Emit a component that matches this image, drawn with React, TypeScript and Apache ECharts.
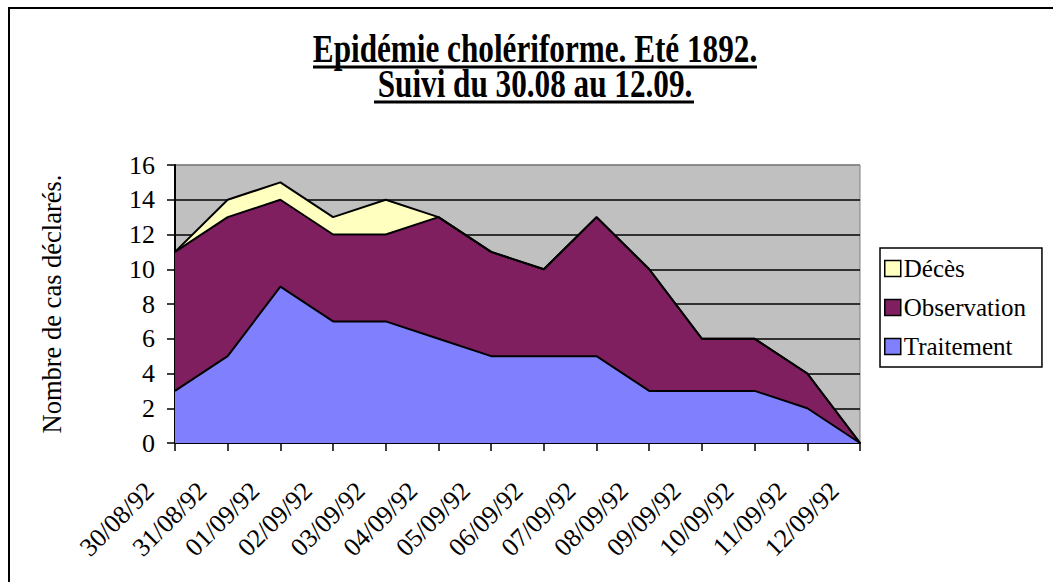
import React, { useEffect, useRef } from "react";
import * as echarts from "echarts";

const dates = [
  "30/08/92", "31/08/92", "01/09/92", "02/09/92", "03/09/92", "04/09/92", "05/09/92",
  "06/09/92", "07/09/92", "08/09/92", "09/09/92", "10/09/92", "11/09/92", "12/09/92",
];
const traitement = [3, 5, 9, 7, 7, 6, 5, 5, 5, 3, 3, 3, 2, 0];
const observation = [8, 8, 5, 5, 5, 7, 6, 5, 8, 7, 3, 3, 2, 0];
const deces = [0, 1, 1, 1, 2, 0, 0, 0, 0, 0, 0, 0, 0, 0];

const titleLine1 = "Epidémie cholériforme. Eté 1892.";
const titleLine2 = "Suivi du 30.08 au 12.09.";
const yAxisTitle = "Nombre de cas déclarés.";

const FONT = "Liberation Serif";

export default function App() {
  const ref = useRef<HTMLDivElement>(null);
  useEffect(() => {
    document.body.style.margin = "0";
    document.body.style.overflow = "hidden";
    const chart = echarts.init(ref.current!, null, { renderer: "svg" });
    const gridColors = ["#000", "#000", "#000", "#000", "#000", "#000", "#000", "#000", "#808080"];
    const mk = (name: string, data: number[], color: string) => ({
      name,
      type: "line",
      stack: "total",
      data,
      symbol: "none",
      itemStyle: { color },
      lineStyle: { color: "#000", width: 2 },
      areaStyle: { color, opacity: 1 },
    });
    chart.setOption({
      animation: false,
      textStyle: { fontFamily: FONT },
      grid: {
        left: 175,
        top: 165,
        width: 685,
        height: 278,
        show: true,
        backgroundColor: "#C0C0C0",
        borderColor: "#808080",
        borderWidth: 1,
      },
      legend: {
        orient: "vertical",
        left: 880,
        top: 248,
        data: ["Décès", "Observation", "Traitement"],
        icon: "rect",
        itemWidth: 16,
        itemHeight: 16,
        itemGap: 14,
        selectedMode: false,
        borderColor: "#000",
        borderWidth: 1.5,
        backgroundColor: "#fff",
        padding: [8, 16, 8, 4],
        itemStyle: { borderColor: "#000", borderWidth: 1.5 },
        textStyle: { fontFamily: FONT, fontSize: 25, color: "#000", padding: [0, 0, 0, -2] },
      },
      xAxis: {
        type: "category",
        data: dates,
        boundaryGap: false,
        axisLine: { lineStyle: { color: "#000", width: 2 } },
        axisTick: { show: true, length: 8, lineStyle: { color: "#000", width: 1.5 }, interval: 0 },
        axisLabel: {
          interval: 0,
          rotate: 45,
          margin: 18,
          padding: [0, 36, 0, 0],
          fontFamily: FONT,
          fontSize: 26,
          color: "#000",
        },
      },
      yAxis: {
        type: "value",
        min: 0,
        max: 16,
        interval: 2,
        name: yAxisTitle,
        nameLocation: "middle",
        nameRotate: 90,
        nameGap: 110,
        nameTextStyle: { fontFamily: FONT, fontSize: 26.5, color: "#000" },
        axisLine: { show: true, lineStyle: { color: "#000", width: 2 } },
        axisTick: { show: true, length: 8, lineStyle: { color: "#000", width: 1.5 } },
        axisLabel: { margin: 20, fontFamily: FONT, fontSize: 26, color: "#000" },
        splitLine: { show: true, lineStyle: { color: gridColors, width: 1.5 } },
      },
      series: [
        mk("Traitement", traitement, "#8080FF"),
        mk("Observation", observation, "#7F1F5F"),
        mk("Décès", deces, "#FFFFC0"),
      ],
      graphic: [
        {
          type: "rect",
          shape: { x: 9, y: 8, width: 1200, height: 700 },
          style: { fill: "none", stroke: "#000", lineWidth: 2 },
          silent: true,
        },
        {
          type: "text",
          x: 535,
          y: 48.5,
          scaleX: 0.78,
          style: {
            text: titleLine1,
            fontFamily: FONT,
            fontWeight: "bold",
            fontSize: 40,
            fill: "#000",
            textAlign: "center",
            textVerticalAlign: "middle",
          },
        },
        {
          type: "text",
          x: 535,
          y: 83.5,
          scaleX: 0.78,
          style: {
            text: titleLine2,
            fontFamily: FONT,
            fontWeight: "bold",
            fontSize: 40,
            fill: "#000",
            textAlign: "center",
            textVerticalAlign: "middle",
          },
        },
        {
          type: "line",
          shape: { x1: 313, y1: 67, x2: 757, y2: 67 },
          style: { stroke: "#000", lineWidth: 3 },
        },
        {
          type: "line",
          shape: { x1: 374, y1: 102, x2: 694, y2: 102 },
          style: { stroke: "#000", lineWidth: 3 },
        },
      ],
    });
    return () => chart.dispose();
  }, []);
  return (
    <div
      ref={ref}
      style={{ position: "absolute", left: 0, top: 0, width: 1053, height: 582, background: "#fff" }}
    />
  );
}
